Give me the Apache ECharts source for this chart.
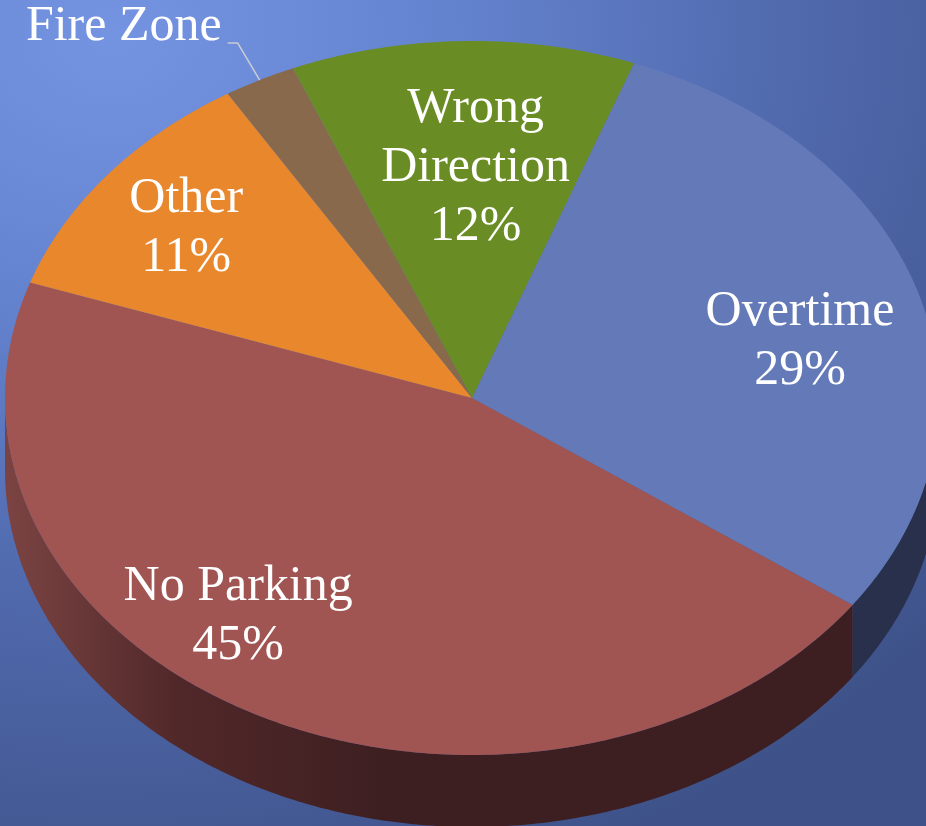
<!DOCTYPE html>
<html>
<head>
<meta charset="utf-8">
<script src="https://cdn.jsdelivr.net/npm/echarts@6/dist/echarts.min.js"></script>
<style>
    html, body { margin: 0; padding: 0; }
    body {
        width: 926px; height: 826px; overflow: hidden;
        background: radial-gradient(ellipse 120% 110% at 12% 4%, #7494E2 0%, #6483CF 30%, #5069AC 62%, #3E5289 100%);
    }
    #chart { width: 926px; height: 826px; }
</style>
</head>
<body>
<div id="chart"></div>
<script>
// ticket types, clockwise from the first slice (shares in percent)
const categories = ['Overtime', 'No Parking', 'Other', 'Fire Zone', 'Wrong\nDirection'];
const counts = [29.2, 45.4, 11.0, 2.5, 11.9];
const outsideLabel = [false, false, false, true, false];

// layout of the tilted pie (pixels)
const cx = 472, cy = 398, rx = 467, ry = 357, depth = 72;
const startDeg = 20.3;
const topColors = ['#6479B8', '#A05553', '#E8872B', '#88694B', '#6A8C24'];
const wallColors = ['#28304B', null, '#7A3F1A', '#4A3828', '#3A4E14'];
const labelR = [0.72, 0.79, 0.775, 0, 0.645];
const labelTurn = [4.4, 12.2, -0.8, 0, 1.8];

const total = counts.reduce((a, b) => a + b, 0);
const starts = [];
let acc = startDeg;
counts.forEach(v => { starts.push(acc); acc += v / total * 360; });

function pt(deg, dy) {
    const a = deg * Math.PI / 180;
    return [cx + rx * Math.sin(a), cy - ry * Math.cos(a) + (dy || 0)];
}

function arc(a0, a1, dy) {
    const pts = [];
    const n = Math.max(2, Math.ceil((a1 - a0) / 0.5));
    for (let i = 0; i <= n; i++) pts.push(pt(a0 + (a1 - a0) * i / n, dy));
    return pts;
}

const noParkingWall = new echarts.graphic.LinearGradient(10, 0, 380, 0, [
    { offset: 0, color: '#7A4342' },
    { offset: 0.45, color: '#512829' },
    { offset: 1, color: '#3E1F21' }
], true);

function renderWall(params, api) {
    const i = params.dataIndex;
    const a0 = starts[i], a1 = a0 + api.value(0) / total * 360;
    const lo = Math.max(a0, 90), hi = Math.min(a1, 270);
    if (hi <= lo) return null;
    const top = arc(lo, hi, 0);
    const bottom = arc(lo, hi, depth).reverse();
    return {
        type: 'polygon',
        shape: { points: top.concat(bottom) },
        style: { fill: wallColors[i] || noParkingWall }
    };
}

function renderTop(params, api) {
    const i = params.dataIndex;
    const v = api.value(0);
    const a0 = starts[i], a1 = a0 + v / total * 360;
    const mid = (a0 + a1) / 2;
    const children = [{
        type: 'polygon',
        shape: { points: [[cx, cy]].concat(arc(a0, a1, 0)) },
        style: { fill: topColors[i] }
    }];
    const font = '50px "Liberation Serif", serif';
    if (outsideLabel[i]) {
        const edge = pt(mid, 0);
        const elbow = [edge[0] - 22, edge[1] - 37];
        const end = [elbow[0] - 10, elbow[1]];
        children.push({
            type: 'polyline',
            shape: { points: [edge, elbow, end] },
            style: { stroke: '#C9CCD4', lineWidth: 1.5, fill: null }
        });
        children.push({
            type: 'text',
            x: end[0] - 6, y: end[1] - 16,
            style: { text: categories[i], fill: '#fff', font: font, align: 'right', verticalAlign: 'middle' }
        });
    } else {
        const a = (mid + labelTurn[i]) * Math.PI / 180;
        const pct = Math.round(v / total * 100) + '%';
        children.push({
            type: 'text',
            x: cx + rx * labelR[i] * Math.sin(a),
            y: cy - ry * labelR[i] * Math.cos(a),
            style: {
                text: categories[i] + '\n' + pct,
                fill: '#fff', font: font, lineHeight: 59,
                align: 'center', verticalAlign: 'middle'
            }
        });
    }
    return { type: 'group', children: children };
}

const seriesData = categories.map((c, i) => ({ name: c, value: counts[i] }));

const chart = echarts.init(document.getElementById('chart'), null, { renderer: 'canvas' });
chart.setOption({
    backgroundColor: 'transparent',
    animation: false,
    series: [
        { type: 'custom', coordinateSystem: 'none', renderItem: renderWall, data: seriesData, z: 1, silent: true },
        { type: 'custom', coordinateSystem: 'none', renderItem: renderTop, data: seriesData, z: 2, silent: true }
    ]
});
</script>
</body>
</html>
